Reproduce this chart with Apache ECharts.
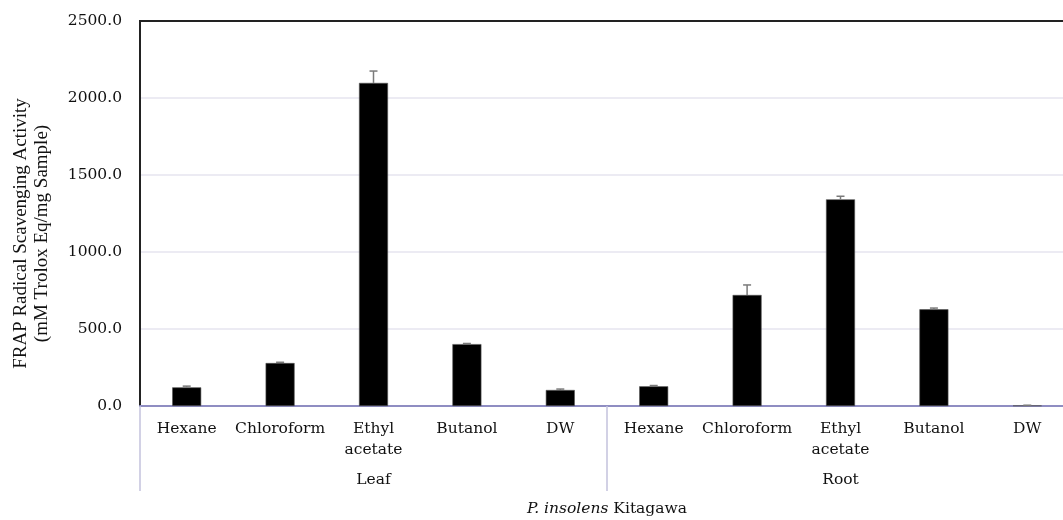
<!DOCTYPE html>
<html>
<head>
<meta charset="utf-8">
<script src="https://cdn.jsdelivr.net/npm/echarts@6/dist/echarts.min.js"></script>
<style>
  html, body { margin: 0; padding: 0; background: #fff; }
  #chart { width: 1063px; height: 520px; }
</style>
</head>
<body>
<div id="chart"></div>
<script>
// Solvent fractions, grouped by plant part
const solvents = ['Hexane', 'Chloroform', 'Ethyl\nacetate', 'Butanol', 'DW',
                  'Hexane', 'Chloroform', 'Ethyl\nacetate', 'Butanol', 'DW'];
const parts = ['Leaf', 'Root'];

// FRAP activity (mM Trolox Eq/mg sample) and standard deviation
const frapValues = [121, 279, 2098, 402, 104, 128, 721, 1342, 628, 3];
const frapErrors = [8, 5, 77, 4, 6, 5, 65, 20, 8, 2];

const yTicks = { min: 0, max: 2500, interval: 500 };

const labelFont = '"DejaVu Serif", "Liberation Serif", serif';
const nameFont = '"Liberation Serif", "DejaVu Serif", serif';
const axisBlue = '#8f8dc2';
const sepColor = '#c3c2dd';

const chart = echarts.init(document.getElementById('chart'));

chart.setOption({
  animation: false,
  backgroundColor: '#fff',
  grid: {
    left: 140, top: 21, width: 934, height: 385,
    outerBoundsMode: 'none',
    containLabel: false,
    show: true, borderColor: '#222', borderWidth: 2, backgroundColor: 'transparent'
  },
  xAxis: [
    {
      type: 'category',
      data: solvents,
      position: 'bottom',
      axisLine: { show: true, lineStyle: { color: axisBlue, width: 2 } },
      axisTick: { show: false },
      axisLabel: {
        color: '#111', fontFamily: labelFont, fontSize: 15.5, lineHeight: 21,
        margin: 12, interval: 0
      },
      splitLine: { show: false }
    },
    {
      type: 'category',
      data: parts,
      position: 'bottom',
      gridIndex: 0,
      axisLine: { show: false },
      axisTick: { show: true, length: 85, lineStyle: { color: sepColor, width: 1.5 } },
      axisLabel: {
        color: '#111', fontFamily: labelFont, fontSize: 15.5, margin: 66, interval: 0
      },
      name: '{i|P. insolens} Kitagawa',
      nameLocation: 'middle',
      nameGap: 95,
      nameTextStyle: {
        color: '#111', fontFamily: labelFont, fontSize: 15.5,
        rich: { i: { fontStyle: 'italic', fontFamily: labelFont, fontSize: 15.5, color: '#111' } }
      }
    }
  ],
  yAxis: {
    type: 'value',
    min: yTicks.min, max: yTicks.max, interval: yTicks.interval,
    axisLine: { show: true, lineStyle: { color: '#222', width: 2 } },
    axisTick: { show: false },
    axisLabel: {
      color: '#111', fontFamily: labelFont, fontSize: 15.5, margin: 18,
      formatter: v => v.toFixed(1)
    },
    splitLine: { show: true, showMaxLine: false, showMinLine: false, lineStyle: { color: '#e6e4ef', width: 1.5 } },
    name: 'FRAP Radical Scavenging Activity\n(mM Trolox Eq/mg Sample)',
    nameLocation: 'middle',
    nameGap: 87,
    nameRotate: 90,
    nameTextStyle: { color: '#111', fontFamily: nameFont, fontSize: 19, lineHeight: 21, padding: [0, 40, 0, 0] }
  },
  series: [
    {
      type: 'bar',
      xAxisIndex: 0,
      data: frapValues,
      barWidth: 29,
      itemStyle: { color: '#000', borderColor: '#555', borderWidth: 0.6 },
      z: 2
    },
    {
      type: 'custom',
      xAxisIndex: 0,
      data: frapValues.map((v, i) => [i, v, frapErrors[i]]),
      z: 3,
      renderItem: function (params, api) {
        const x = api.value(0);
        const v = api.value(1);
        const e = api.value(2);
        const base = api.coord([x, v]);
        const top = api.coord([x, v + e]);
        const cap = 4;
        const style = { stroke: '#7a7a7a', lineWidth: 1.5, fill: null };
        return {
          type: 'group',
          children: [
            { type: 'line', shape: { x1: base[0], y1: base[1], x2: top[0], y2: top[1] }, style },
            { type: 'line', shape: { x1: top[0] - cap, y1: top[1], x2: top[0] + cap, y2: top[1] }, style }
          ]
        };
      }
    }
  ]
});
</script>
</body>
</html>
